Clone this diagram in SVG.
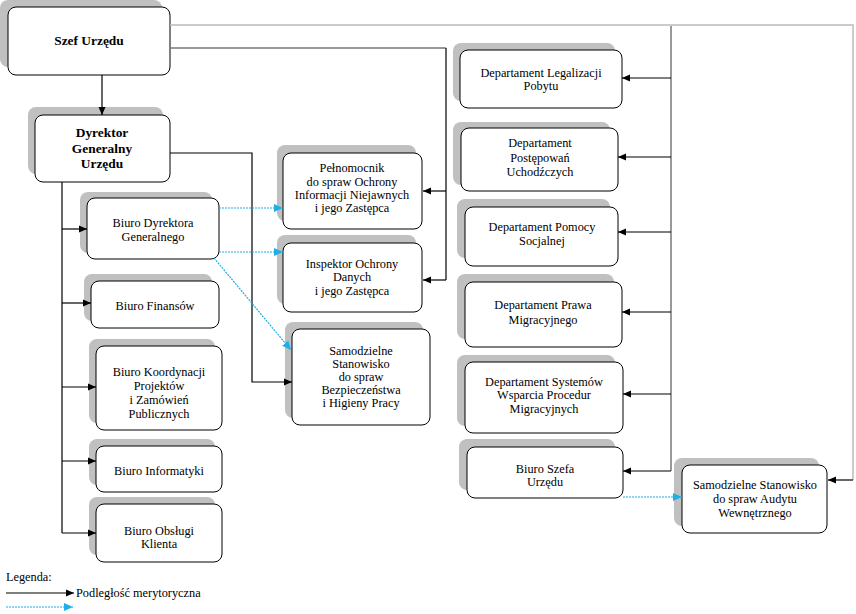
<svg xmlns="http://www.w3.org/2000/svg" width="856" height="614" viewBox="0 0 856 614">
<style>
.sh{fill:#c0c0c0}
.bx{fill:#fff;stroke:#000;stroke-width:1}
text{font-family:"Liberation Serif","DejaVu Serif",serif;font-size:12.3px;fill:#000;text-anchor:middle}
.b{font-weight:bold;font-size:13.4px}
.ln{fill:none;stroke:#000;stroke-width:1.2}
.lg{fill:none;stroke:#bbb;stroke-width:1.5}
.dg{fill:none;stroke:#777;stroke-width:1.5}
.dt{fill:none;stroke:#1eaee8;stroke-width:1.2;stroke-dasharray:2 1}
</style>
<defs>
<marker id="ab" markerWidth="10" markerHeight="10" refX="8" refY="5" orient="auto" markerUnits="userSpaceOnUse"><path d="M0,1.5 L8,5 L0,8.5 Z" fill="#000"/></marker>
<marker id="ac" markerWidth="10" markerHeight="10" refX="9" refY="5" orient="auto" markerUnits="userSpaceOnUse"><path d="M0,1 L9,5 L0,9 Z" fill="#1eaee8"/></marker>
</defs>
<g id="szef"><rect class="sh" x="0" y="0" width="162" height="67" rx="8"/><rect class="bx" x="8" y="7" width="162" height="68" rx="8"/><text class="b" x="89" y="45">Szef Urzędu</text></g>
<g id="dyrektor"><rect class="sh" x="28" y="107" width="135" height="67" rx="8"/><rect class="bx" x="35" y="115" width="135" height="67" rx="8"/><text class="b" x="102" y="137">Dyrektor</text><text class="b" x="102" y="153">Generalny</text><text class="b" x="102" y="168">Urzędu</text></g>
<g id="biuro-dyrektora"><rect class="sh" x="80" y="192" width="132" height="61" rx="8"/><rect class="bx" x="87" y="198" width="132" height="61" rx="8"/><text x="153" y="227">Biuro Dyrektora</text><text x="153" y="241">Generalnego</text></g>
<g id="biuro-finansow"><rect class="sh" x="84" y="274" width="128" height="47" rx="8"/><rect class="bx" x="91" y="281" width="128" height="47" rx="8"/><text x="155" y="310">Biuro Finansów</text></g>
<g id="biuro-koordynacji"><rect class="sh" x="89" y="339" width="126" height="84" rx="8"/><rect class="bx" x="96" y="346" width="126" height="84" rx="8"/><text x="159" y="376">Biuro Koordynacji</text><text x="159" y="390">Projektów</text><text x="159" y="404">i Zamówień</text><text x="159" y="418">Publicznych</text></g>
<g id="biuro-informatyki"><rect class="sh" x="89" y="439" width="126" height="46" rx="8"/><rect class="bx" x="96" y="446" width="126" height="46" rx="8"/><text x="159" y="475">Biuro Informatyki</text></g>
<g id="biuro-obslugi"><rect class="sh" x="89" y="497" width="126" height="58" rx="8"/><rect class="bx" x="96" y="504" width="126" height="58" rx="8"/><text x="159" y="535">Biuro Obsługi</text><text x="159" y="548">Klienta</text></g>
<g id="pelnomocnik"><rect class="sh" x="277" y="145" width="139" height="76" rx="8"/><rect class="bx" x="283" y="153" width="139" height="76" rx="8"/><text x="352" y="172">Pełnomocnik</text><text x="352" y="186">do spraw Ochrony</text><text x="352" y="199">Informacji Niejawnych</text><text x="352" y="212">i jego Zastępca</text></g>
<g id="inspektor"><rect class="sh" x="277" y="235" width="139" height="69" rx="8"/><rect class="bx" x="283" y="243" width="139" height="69" rx="8"/><text x="352" y="268">Inspektor Ochrony</text><text x="352" y="281">Danych</text><text x="352" y="295">i jego Zastępca</text></g>
<g id="bhp"><rect class="sh" x="285" y="322" width="138" height="96" rx="8"/><rect class="bx" x="292" y="329" width="138" height="96" rx="8"/><text x="361" y="355">Samodzielne</text><text x="361" y="368">Stanowisko</text><text x="361" y="381">do spraw</text><text x="361" y="394">Bezpieczeństwa</text><text x="361" y="407">i Higieny Pracy</text></g>
<g id="dep-legalizacji"><rect class="sh" x="453" y="43" width="162" height="58" rx="8"/><rect class="bx" x="460" y="50" width="162" height="58" rx="8"/><text x="541" y="77">Departament Legalizacji</text><text x="541" y="90">Pobytu</text></g>
<g id="dep-postepowan"><rect class="sh" x="453" y="122" width="157" height="63" rx="8"/><rect class="bx" x="461" y="128" width="157" height="63" rx="8"/><text x="540" y="147">Departament</text><text x="540" y="162">Postępowań</text><text x="540" y="176">Uchodźczych</text></g>
<g id="dep-pomocy"><rect class="sh" x="457" y="199" width="153" height="59" rx="8"/><rect class="bx" x="465" y="207" width="153" height="59" rx="8"/><text x="542" y="231">Departament Pomocy</text><text x="542" y="245">Socjalnej</text></g>
<g id="dep-prawa"><rect class="sh" x="457" y="274" width="157" height="65" rx="8"/><rect class="bx" x="465" y="282" width="157" height="65" rx="8"/><text x="543" y="309">Departament Prawa</text><text x="543" y="324">Migracyjnego</text></g>
<g id="dep-systemow"><rect class="sh" x="457" y="355" width="158" height="71" rx="8"/><rect class="bx" x="465" y="362" width="158" height="71" rx="8"/><text x="544" y="386">Departament Systemów</text><text x="544" y="399">Wsparcia Procedur</text><text x="544" y="413">Migracyjnych</text></g>
<g id="biuro-szefa"><rect class="sh" x="459" y="439" width="156" height="51" rx="8"/><rect class="bx" x="467" y="447" width="156" height="51" rx="8"/><text x="545" y="473">Biuro Szefa</text><text x="545" y="486">Urzędu</text></g>
<g id="audyt"><rect class="sh" x="674" y="458" width="145" height="68" rx="8"/><rect class="bx" x="682" y="465" width="145" height="68" rx="8"/><text x="755" y="489">Samodzielne Stanowisko</text><text x="755" y="503">do spraw Audytu</text><text x="755" y="517">Wewnętrznego</text></g>
<g id="connectors">
<path class="lg" d="M170,25 H853 V480"/>
<path class="ln" d="M853,480 H828" marker-end="url(#ab)"/>
<path class="dg" d="M170,48 H446"/>
<path class="ln" d="M446,48 V280"/>
<path class="ln" d="M446,191 H423" marker-end="url(#ab)"/>
<path class="ln" d="M446,280 H423" marker-end="url(#ab)"/>
<path class="dg" d="M671,26 V471"/>
<path class="ln" d="M671,78 H622" marker-end="url(#ab)"/>
<path class="ln" d="M671,157 H618" marker-end="url(#ab)"/>
<path class="ln" d="M671,232 H618" marker-end="url(#ab)"/>
<path class="ln" d="M671,312 H622" marker-end="url(#ab)"/>
<path class="ln" d="M671,394 H623" marker-end="url(#ab)"/>
<path class="ln" d="M671,471 H623" marker-end="url(#ab)"/>
<path class="ln" d="M102,75 V115" marker-end="url(#ab)"/>
<path class="ln" d="M170,153 H252 V382 H292" marker-end="url(#ab)"/>
<path class="ln" d="M62,182 V533"/>
<path class="ln" d="M62,229 H87" marker-end="url(#ab)"/>
<path class="ln" d="M62,303 H91" marker-end="url(#ab)"/>
<path class="ln" d="M62,387 H96" marker-end="url(#ab)"/>
<path class="ln" d="M62,461 H96" marker-end="url(#ab)"/>
<path class="ln" d="M62,533 H96" marker-end="url(#ab)"/>
<path class="dt" d="M219,208 H283" marker-end="url(#ac)"/>
<path class="dt" d="M219,252 H283" marker-end="url(#ac)"/>
<path class="dt" d="M214,258 L291,350" marker-end="url(#ac)"/>
<path class="dt" d="M623,497 H682" marker-end="url(#ac)"/>
</g>
<g id="legenda">
<text x="6" y="581" style="text-anchor:start">Legenda:</text>
<path class="ln" d="M6,593 H74" marker-end="url(#ab)"/>
<text x="76" y="597" style="text-anchor:start">Podległość merytoryczna</text>
<path class="dt" d="M6,607 H73" marker-end="url(#ac)"/>
</g>
</svg>
